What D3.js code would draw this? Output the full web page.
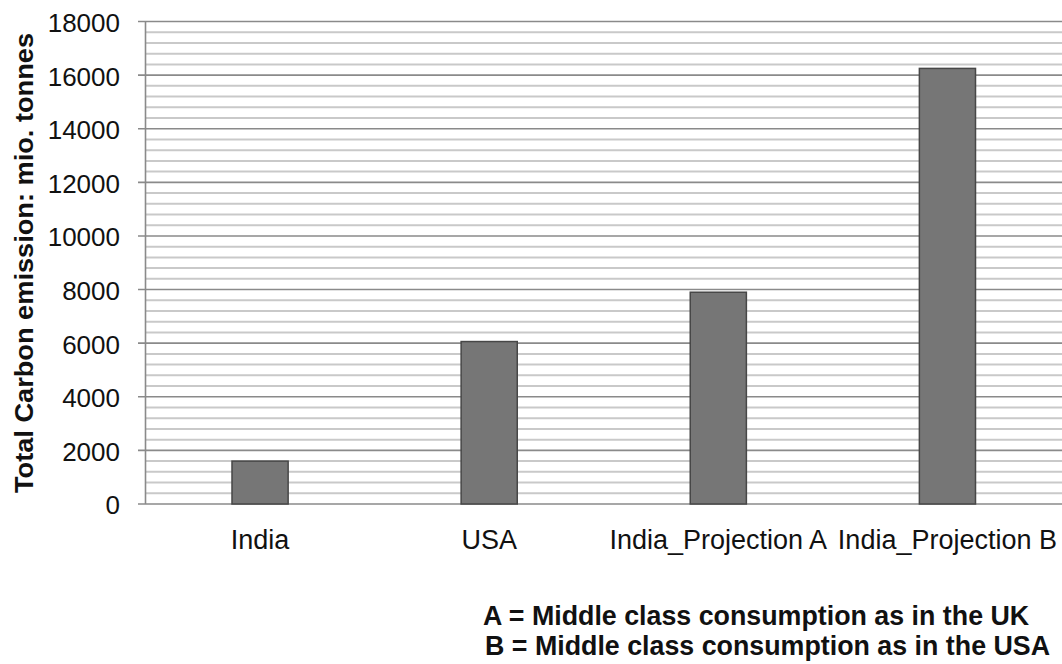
<!DOCTYPE html>
<html>
<head>
<meta charset="utf-8">
<script src="https://cdn.jsdelivr.net/npm/d3@7"></script>
<style>
  html, body { margin: 0; padding: 0; background: #fff; }
  svg { display: block; font-family: "Liberation Sans", Arial, sans-serif; }
</style>
</head>
<body>
<svg id="chart" width="1062" height="664"></svg>
<script>
// Total carbon emission by scenario (million tonnes)
const categories = ["India", "USA", "India_Projection A", "India_Projection B"];
const emissions = [1600, 6060, 7900, 16250];
const majorTicks = [0, 2000, 4000, 6000, 8000, 10000, 12000, 14000, 16000, 18000];
const minorStep = 400;
const footnotes = [
  "A = Middle class consumption as in the UK",
  "B = Middle class consumption as in the USA"
];
const yTitle = "Total Carbon emission: mio. tonnes";

const svg = d3.select("#chart");
const plotLeft = 145.5, plotRight = 1062, plotTop = 21.5, plotBottom = 504;

const y = d3.scaleLinear().domain([0, 18000]).range([plotBottom, plotTop]);
const x = d3.scaleBand().domain(categories).range([plotLeft, plotRight])
  .paddingInner(0.755).paddingOuter(0.3775);

// minor gridlines
const minorVals = d3.range(0, 18000 + 1, minorStep).filter(v => v % 2000 !== 0);
svg.append("g").selectAll("line").data(minorVals).join("line")
  .attr("x1", plotLeft).attr("x2", plotRight)
  .attr("y1", d => y(d)).attr("y2", d => y(d))
  .attr("stroke", "#c9c9c9").attr("stroke-width", 2);

// major gridlines with outer tick marks
svg.append("g").selectAll("line").data(majorTicks).join("line")
  .attr("x1", plotLeft - 7.5).attr("x2", plotRight)
  .attr("y1", d => y(d)).attr("y2", d => y(d))
  .attr("stroke", "#8a8a8a").attr("stroke-width", 1.6);

// y axis line
svg.append("line")
  .attr("x1", plotLeft).attr("x2", plotLeft).attr("y1", plotTop).attr("y2", plotBottom)
  .attr("stroke", "#8a8a8a").attr("stroke-width", 1.6);

// y tick labels via d3 axis
const yAxis = d3.axisLeft(y).tickValues(majorTicks).tickSize(0).tickPadding(0)
  .tickFormat(d3.format("d"));
const gy = svg.append("g").attr("transform", "translate(120,0)").call(yAxis);
gy.select(".domain").remove();
gy.selectAll("text")
  .attr("font-size", 26).attr("font-family", "Liberation Sans, Arial, sans-serif")
  .attr("fill", "#111").attr("dy", "0.38em");

// bars
svg.append("g").selectAll("rect").data(emissions).join("rect")
  .attr("x", (d, i) => x(categories[i]))
  .attr("width", x.bandwidth())
  .attr("y", d => y(d))
  .attr("height", d => y(0) - y(d))
  .attr("fill", "#767676")
  .attr("stroke", "#474747").attr("stroke-width", 1.5);

// x labels
svg.append("g").selectAll("text").data(categories).join("text")
  .attr("x", d => x(d) + x.bandwidth() / 2)
  .attr("y", 549)
  .attr("text-anchor", "middle")
  .attr("font-size", 27).attr("fill", "#111")
  .text(d => d);

// y title
svg.append("text")
  .attr("transform", "translate(33,263) rotate(-90)")
  .attr("text-anchor", "middle")
  .attr("font-size", 25.5).attr("font-weight", "bold").attr("fill", "#111")
  .attr("textLength", 460).attr("lengthAdjust", "spacingAndGlyphs")
  .text(yTitle);

// footnotes
svg.append("g").selectAll("text").data(footnotes).join("text")
  .attr("x", (d, i) => i === 0 ? 483 : 485)
  .attr("y", (d, i) => 625 + i * 30)
  .attr("font-size", 26.8).attr("font-weight", "bold").attr("fill", "#111")
  .text(d => d);
</script>
</body>
</html>
